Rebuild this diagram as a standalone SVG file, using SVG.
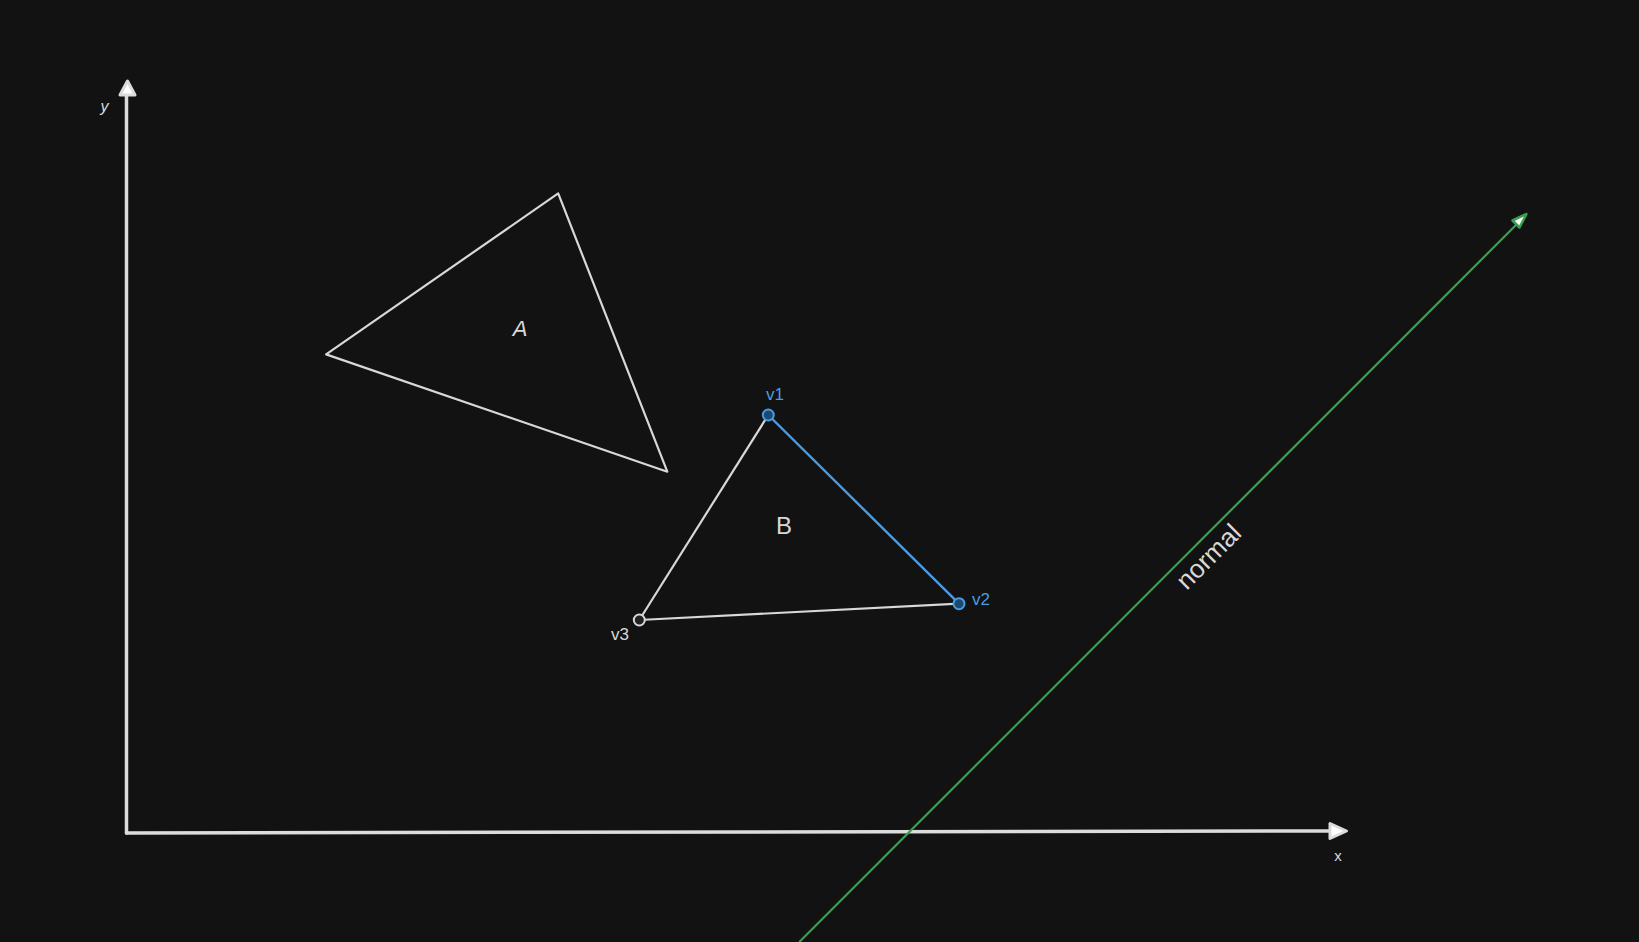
<svg xmlns="http://www.w3.org/2000/svg" width="1639" height="942" viewBox="0 0 1639 942">
  <style>
    .axis { stroke: #dcdcdc; stroke-width: 3.5; fill: none; stroke-linecap: round; }
    .edge { stroke: #d8d8d8; stroke-width: 2.2; fill: none; stroke-linejoin: round; }
    .blue { stroke: #4a9be0; stroke-width: 2.4; fill: none; }
    .lbl { font-family: "Liberation Sans", "DejaVu Sans", sans-serif; fill: #d8d8d8; }
    .blbl { font-family: "Liberation Sans", "DejaVu Sans", sans-serif; fill: #4a9be0; }
  </style>
  <rect x="0" y="0" width="1639" height="942" fill="#121212"/>

  <g id="connectors">
    <g id="y-axis">
      <line class="axis" x1="126.5" y1="833" x2="126.5" y2="92"/>
      <polygon points="127.5,81 120,95 135,95" fill="#ffffff" stroke="#dcdcdc" stroke-width="3" stroke-linejoin="round"/>
    </g>
    <g id="x-axis">
      <line class="axis" x1="126.5" y1="833" x2="1335" y2="831"/>
      <polygon points="1346.5,831 1330,823.5 1330,838.5" fill="#ffffff" stroke="#dcdcdc" stroke-width="3" stroke-linejoin="round"/>
    </g>
    <g id="normal-arrow">
      <line x1="799.3" y1="942" x2="1522" y2="219" stroke="#37a04c" stroke-width="2.2"/>
      <polygon points="1526.5,214 1512.5,220.5 1519.5,227.5" fill="#ffffff" stroke="#37a04c" stroke-width="2.5" stroke-linejoin="round"/>
    </g>
  </g>

  <g id="triangle-A">
    <polygon class="edge" points="558.2,193.4 326.1,354.4 667.3,471.7"/>
    <text class="lbl" x="520" y="336" font-size="22" font-style="italic" text-anchor="middle">A</text>
  </g>

  <g id="triangle-B">
    <line class="edge" x1="639.3" y1="620" x2="768.3" y2="415"/>
    <line class="edge" x1="639.3" y1="620" x2="959" y2="603.7"/>
    <line class="blue" x1="768.3" y1="415" x2="959" y2="603.7"/>
    <text class="lbl" x="784" y="534" font-size="24" text-anchor="middle">B</text>
  </g>

  <g id="v1">
    <circle cx="768.3" cy="415" r="5.5" fill="#1c4a6e" stroke="#4a9be0" stroke-width="2"/>
    <text class="blbl" x="775" y="400" font-size="17" text-anchor="middle">v1</text>
  </g>
  <g id="v2">
    <circle cx="959" cy="603.7" r="5.5" fill="#1c4a6e" stroke="#4a9be0" stroke-width="2"/>
    <text class="blbl" x="981" y="605" font-size="17" text-anchor="middle">v2</text>
  </g>
  <g id="v3">
    <circle cx="639.3" cy="620" r="5.5" fill="#1e2226" stroke="#d8d8d8" stroke-width="2"/>
    <text class="lbl" x="620" y="640" font-size="17" text-anchor="middle">v3</text>
  </g>

  <g id="labels">
    <text class="lbl" x="104.5" y="112" font-size="16" font-style="italic" text-anchor="middle">y</text>
    <text class="lbl" x="1338" y="861" font-size="15" text-anchor="middle">x</text>
    <text class="lbl" x="1210" y="558" font-size="26" text-anchor="middle" dominant-baseline="middle" transform="rotate(-45 1210 558)">normal</text>
  </g>
</svg>
